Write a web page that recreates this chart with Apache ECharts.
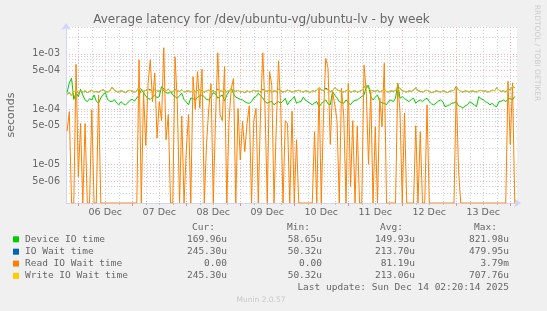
<!DOCTYPE html>
<html><head><meta charset="utf-8">
<script src="https://cdn.jsdelivr.net/npm/echarts@6/dist/echarts.min.js"></script>
<style>html,body{margin:0;padding:0;background:#f0f0f0}#c{width:547px;height:311px}</style>
</head><body><div id="c"></div>
<script>
// hours relative to 06 Dec 00:00; one sample per hour
const START_HOUR = -5;
const DAY_LABELS = ['06 Dec','07 Dec','08 Dec','09 Dec','10 Dec','11 Dec','12 Dec','13 Dec'];
const Y_TICKS = [5e-6, 1e-5, 5e-5, 1e-4, 5e-4, 1e-3];
const Y_TICK_LABELS = ['5e-06','1e-05','5e-05','1e-04','5e-04','1e-03'];

// values in microseconds
const DEVICE_IO = [
200,300,364,150,200,169,230,180,147,137,
155,147,181,140,128,160,185,200,150,140,
137,150,130,120,137,125,120,130,145,150,
140,160,180,223,200,170,158,150,165,181,
160,170,256,215,200,195,208,180,169,158,
175,195,150,135,120,160,155,147,165,175,
181,169,150,147,169,200,190,158,170,181,
140,180,208,240,190,165,158,150,147,137,
130,128,137,160,169,195,175,160,137,128,
135,137,120,130,137,128,140,158,120,140,
150,169,128,135,137,165,145,137,128,120,
130,137,111,125,137,147,125,120,208,180,
160,137,132,128,147,130,120,137,145,147,
158,170,181,256,270,169,147,165,181,137,
130,128,120,140,147,137,158,290,158,169,
155,147,137,150,158,128,140,147,137,150,
158,137,125,120,128,140,147,137,111,115,
120,128,130,137,115,111,104,115,120,137,
128,120,111,169,155,147,137,130,120,128,
115,111,137,140,147,137,150,158,147,170
];
const IO_WAIT = [
185,200,175,205,218,200,210,205,215,200,
210,220,205,210,203,215,225,210,205,215,
250,220,210,205,215,210,200,215,220,210,
205,215,250,232,210,220,230,225,205,228,
215,210,240,235,215,230,210,205,225,215,
210,225,205,210,215,205,222,210,218,225,
214,205,215,220,210,215,205,232,215,210,
224,205,215,235,218,210,220,205,210,200,
215,205,210,220,210,215,205,232,215,210,
224,205,215,210,230,215,205,210,220,215,
205,210,215,220,210,205,215,210,200,215,
210,220,245,225,215,240,226,210,215,245,
225,215,210,205,215,222,205,210,215,205,
210,220,245,275,235,220,215,210,220,205,
215,230,210,205,215,210,220,240,240,215,
210,205,215,210,220,245,215,210,205,215,
220,210,200,205,215,210,205,215,210,200,
210,215,220,255,225,210,205,215,210,205,
215,210,205,215,220,210,215,205,210,220,
215,245,220,210,215,205,228,225,255,245
];
const READ_IO_WAIT = [
40,90,0,0,650,6,55,0,55,0,
0,98,0,0,181,0,0,0,0,0,
0,0,0,0,0,0,0,0,0,0,
0,0,780,0,200,22,290,780,137,450,
30,137,62,1300,28,80,0,0,890,137,
0,75,0,18,80,0,390,100,480,105,
530,0,24,103,290,0,70,1050,80,62,
590,0,62,240,360,0,103,12,60,17,
55,115,0,62,103,0,92,1050,103,0,
480,270,0,48,750,103,0,62,55,0,
92,0,28,0,0,0,0,0,0,0,
39,0,240,0,80,830,550,23,210,120,
62,0,240,75,0,295,4,62,0,50,
0,0,630,210,10,210,0,48,0,160,
48,680,0,0,0,0,0,295,92,0,
85,0,0,0,0,50,0,39,0,0,
120,0,0,0,0,0,0,0,0,0,
0,0,0,260,8,0,0,0,0,0,
0,0,0,0,0,0,0,0,0,0,
0,0,0,0,0,0,320,23,300,0
];
const WRITE_IO_WAIT = [
185,200,175,205,215,200,210,205,215,200,
210,220,205,210,200,215,225,210,205,215,
250,220,210,205,215,210,200,215,220,210,
205,215,245,225,210,220,230,215,205,225,
215,210,240,225,215,230,210,205,220,215,
210,225,205,210,215,205,220,210,215,225,
210,205,215,220,210,215,205,225,215,210,
220,205,215,235,215,210,220,205,210,200,
215,205,210,220,210,215,205,225,215,210,
220,205,215,210,225,215,205,210,220,215,
205,210,215,220,210,205,215,210,200,215,
210,220,245,225,215,230,220,210,215,245,
225,215,210,205,215,220,205,210,215,205,
210,220,240,270,235,220,215,210,220,205,
215,225,210,205,215,210,220,230,240,215,
210,205,215,210,220,245,215,210,205,215,
220,210,200,205,215,210,205,215,210,200,
210,215,220,245,225,210,205,215,210,205,
215,210,205,215,220,210,215,205,210,220,
215,245,220,210,215,205,220,225,255,245
];

const SERIES_NAMES = ['Device IO time','IO Wait time','Read IO Wait time','Write IO Wait time'];
const SERIES_COLORS = ['#00cc00','#0066b3','#ff8000','#ffcc00'];
const CUR = ['169.96u','245.30u','0.00','245.30u'];
const MIN = ['58.65u','50.32u','0.00','50.32u'];
const AVG = ['149.93u','213.70u','81.19u','213.06u'];
const MAX = ['821.98u','479.95u','3.79m','707.76u'];

const X_MIN = -5.47, X_MAX = 195.0;
const Y_MIN = 2e-6, Y_MAX = 3.08e-3;

const hours = DEVICE_IO.map((_, i) => START_HOUR + i);
const xMinor = [], xMajor = [], xLabelPos = [];
for (let h = 0; h <= 192; h += 6) { (h % 24 === 0 ? xMajor : xMinor).push(h); }
for (let d = 0; d < DAY_LABELS.length; d++) xLabelPos.push(d * 24 + 12);
const yMinor = [];
for (let e = -6; e <= -3; e++) for (const m of [2,3,4,6,7,8,9]) {
  const v = m * Math.pow(10, e);
  if (v > Y_MIN * 1.01 && v < Y_MAX) yMinor.push(v);
}

const toPts = (arr, floor) => arr.map((v, i) => [hours[i], v > 0 ? v * 1e-6 : floor]);
const datasets = [toPts(DEVICE_IO), toPts(IO_WAIT), toPts(READ_IO_WAIT, Y_MIN), toPts(WRITE_IO_WAIT)];

const FONT = '"DejaVu Sans", sans-serif';
const MONO = '"DejaVu Sans Mono", monospace';
const TXT = '#666666';
const MINOR_C = '#d2d2d2', MAJOR_C = '#f2b4b4';

const graphic = [];
graphic.push({type:'text', x:261.5, y:20, style:{text:'Average latency for /dev/ubuntu-vg/ubuntu-lv - by week', font:'12px ' + FONT, fill:TXT, align:'center', verticalAlign:'middle'}});
graphic.push({type:'text', x:11, y:115, rotation:Math.PI/2, style:{text:'seconds', font:'11px ' + FONT, fill:TXT, align:'center', verticalAlign:'middle'}});
graphic.push({type:'text', x:537, y:53, rotation:-Math.PI/2, style:{text:'RRDTOOL / TOBI OETIKER', font:'7.5px ' + FONT, fill:'#cccccc', align:'center', verticalAlign:'middle'}});
const colRight = [227, 322, 415, 509];
const heads = ['Cur:','Min:','Avg:','Max:'];
heads.forEach((t, j) => graphic.push({type:'text', x:colRight[j] - 12, y:227.5, style:{text:t, font:'9.5px ' + MONO, fill:TXT, align:'right', verticalAlign:'middle'}}));
const rowsY = [239.3, 251.7, 263.6, 275.8];
SERIES_NAMES.forEach((n, i) => {
  const y = rowsY[i];
  graphic.push({type:'rect', shape:{x:13, y:y - 3, width:6, height:6}, style:{fill:SERIES_COLORS[i]}});
  graphic.push({type:'text', x:25, y:y, style:{text:n, font:'9.5px ' + MONO, fill:TXT, align:'left', verticalAlign:'middle'}});
  [CUR[i], MIN[i], AVG[i], MAX[i]].forEach((t, j) => graphic.push({type:'text', x:colRight[j], y:y, style:{text:t, font:'9.5px ' + MONO, fill:TXT, align:'right', verticalAlign:'middle'}}));
});
graphic.push({type:'text', x:509, y:287.6, style:{text:'Last update: Sun Dec 14 02:20:14 2025', font:'9.5px ' + MONO, fill:TXT, align:'right', verticalAlign:'middle'}});
graphic.push({type:'text', x:261, y:299.7, style:{text:'Munin 2.0.57', font:'7.5px ' + FONT, fill:'#c8c8c8', align:'center', verticalAlign:'middle'}});

const yLabelFmt = (v) => {
  let best = 0, bd = Infinity;
  Y_TICKS.forEach((t, i) => { const d = Math.abs(Math.log10(v) - Math.log10(t)); if (d < bd) { bd = d; best = i; } });
  return Y_TICK_LABELS[best];
};

const chart = echarts.init(document.getElementById('c'), null, {renderer:'canvas'});
chart.setOption({
  animation:false,
  backgroundColor:'#f0f0f0',
  grid:{left:66, top:27, right:30, bottom:108, show:true, backgroundColor:'#ffffff', borderWidth:0, containLabel:false},
  xAxis:[
    {type:'value', min:X_MIN, max:X_MAX, position:'bottom', z:0,
     axisLine:{show:true, onZero:false, lineStyle:{color:'#CFD6F8', width:1}, symbol:['none','arrow'], symbolSize:[7,7], symbolOffset:[0,4]},
     axisTick:{show:true, customValues:xMinor, length:2, lineStyle:{color:'#c4c4c4'}},
     axisLabel:{show:false},
     splitLine:{show:true, lineStyle:{color:MINOR_C, width:1, type:[1,2]}}},
    {type:'value', min:X_MIN, max:X_MAX, position:'bottom', z:1,
     axisLine:{show:false, onZero:false},
     axisTick:{show:true, customValues:xMajor, length:3, lineStyle:{color:'#e89090'}},
     axisLabel:{show:true, customValues:xLabelPos, margin:5, color:TXT, fontSize:9.5, fontFamily:'DejaVu Sans',
       formatter:(v) => DAY_LABELS[Math.round((v - 12) / 24)]},
     splitLine:{show:true, lineStyle:{color:MAJOR_C, width:1, type:[1,2]}}}
  ],
  yAxis:[
    {type:'log', logBase:10, min:Y_MIN, max:Y_MAX, position:'left', z:1,
     axisLine:{show:true, onZero:false, lineStyle:{color:'#CFD6F8', width:1}, symbol:['none','arrow'], symbolSize:[7,7], symbolOffset:[0,4]},
     axisTick:{show:false, customValues:Y_TICKS},
     axisLabel:{show:true, customValues:Y_TICKS, margin:6, color:TXT, fontSize:9.6, fontFamily:'DejaVu Sans', formatter:yLabelFmt},
     splitLine:{show:true, lineStyle:{color:MAJOR_C, width:1, type:[1,2]}}},
    {type:'log', logBase:10, min:Y_MIN, max:Y_MAX, position:'left', z:0,
     axisLine:{show:false},
     axisTick:{show:false, customValues:yMinor},
     axisLabel:{show:false},
     splitLine:{show:true, lineStyle:{color:MINOR_C, width:1, type:[1,2]}}}
  ],
  series: datasets.map((d, i) => ({
    name:SERIES_NAMES[i], type:'line', data:d, showSymbol:false, symbol:'none', z:2 + i,
    xAxisIndex:0, yAxisIndex:0, clip:true,
    lineStyle:{color:SERIES_COLORS[i], width:1}, itemStyle:{color:SERIES_COLORS[i]}
  })),
  graphic:graphic
});
</script></body></html>
